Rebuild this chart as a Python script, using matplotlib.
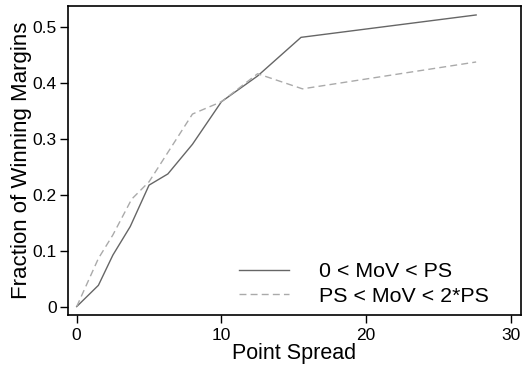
import matplotlib.pyplot as plt

plt.rcParams['font.family'] = ['Liberation Sans', 'DejaVu Sans']

# point spread bins and fractions
ps_solid = [0, 1.5, 2.5, 3.7, 5.0, 6.3, 8.0, 10.0, 12.5, 15.5, 27.6]
frac_solid = [0, 0.038, 0.092, 0.143, 0.217, 0.237, 0.29, 0.366, 0.412, 0.481, 0.521]

ps_dash = [0, 1.5, 2.5, 3.8, 5.0, 8.0, 10.0, 12.5, 15.6, 27.6]
frac_dash = [0, 0.086, 0.128, 0.192, 0.223, 0.344, 0.366, 0.416, 0.389, 0.437]

fig = plt.figure(figsize=(5.32, 3.66), dpi=100)
ax = fig.add_axes([68/532, 1 - 315/366, (521-68)/532, (315-6)/366])

ax.plot(ps_solid, frac_solid, color='#666666', lw=1.0, label='0 < MoV < PS')
ax.plot(ps_dash, frac_dash, color='#aaaaaa', lw=1.0, ls=(0, (5, 3)), label='PS < MoV < 2*PS')

ax.set_xlim(-0.6, 30.7)
ax.set_ylim(-0.015, 0.537)
ax.set_xticks([0, 10, 20, 30])
ax.set_yticks([0, 0.1, 0.2, 0.3, 0.4, 0.5])
ax.set_yticklabels(['0', '0.1', '0.2', '0.3', '0.4', '0.5'])
ax.tick_params(labelsize=12.5, length=6, width=1, colors='black')
ax.tick_params(axis='y', pad=2)
for s in ax.spines.values():
    s.set_linewidth(1.2)

ax.set_xlabel('Point Spread', fontsize=15.5, labelpad=0)
ax.set_ylabel('Fraction of Winning Margins', fontsize=16, labelpad=0.5)

ax.legend(loc='lower right', frameon=False, fontsize=15.4, handlelength=2.35,
          handletextpad=1.4, labelspacing=0.25, borderpad=0, borderaxespad=0,
          bbox_to_anchor=(0.93, 0.03))

fig.savefig('out.png', dpi=100)
